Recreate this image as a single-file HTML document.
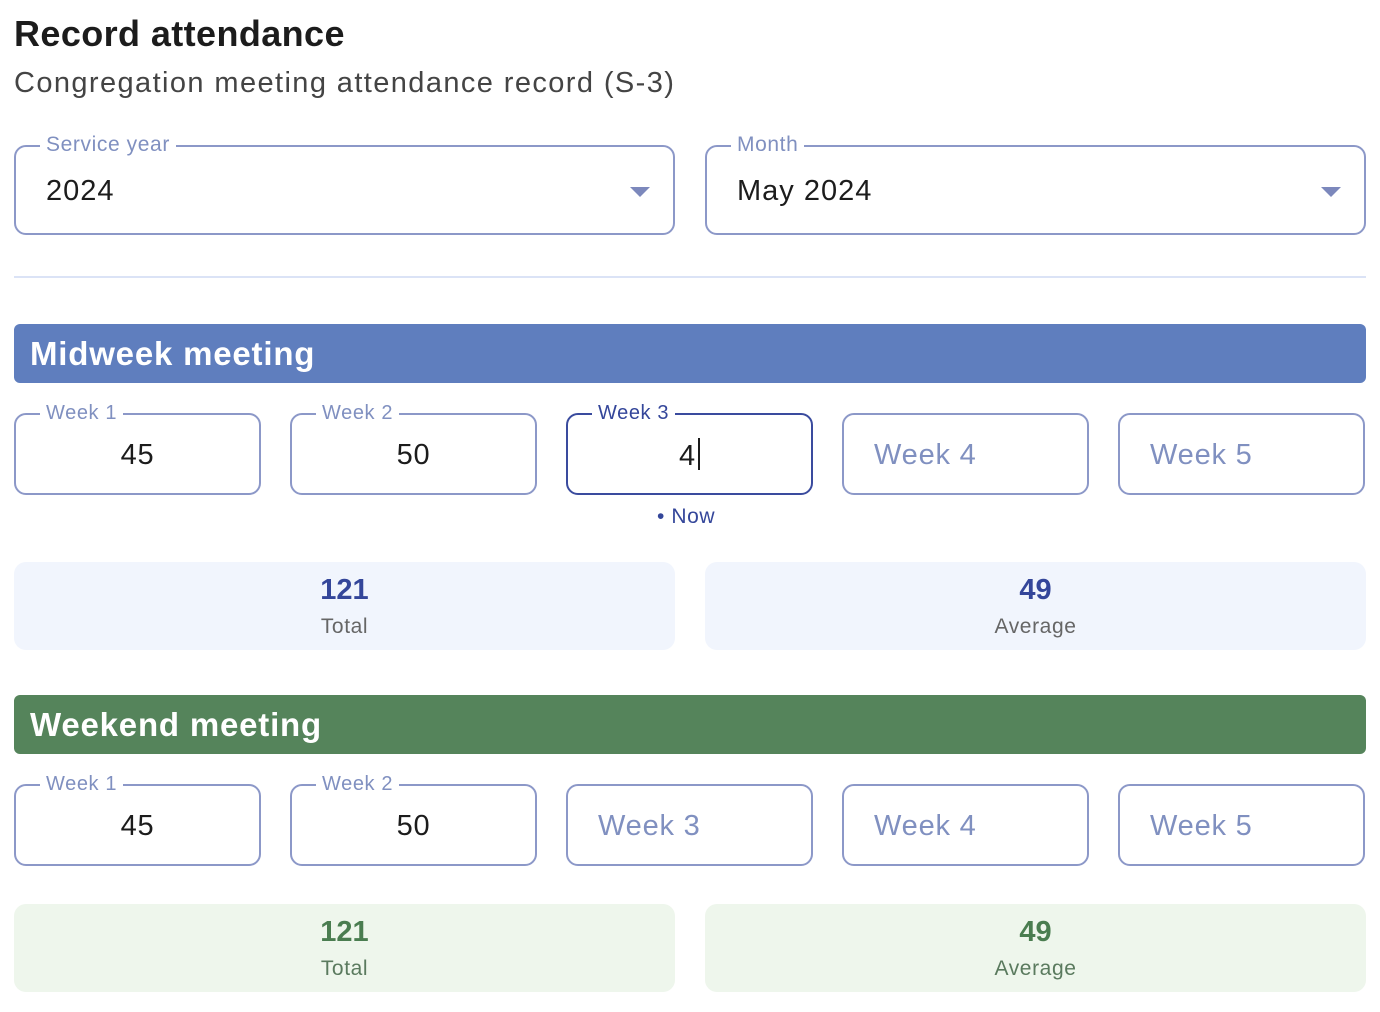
<!DOCTYPE html>
<html><head><meta charset="utf-8"><style>
*{margin:0;padding:0;box-sizing:border-box}
body{width:1380px;height:1012px;background:#fff;font-family:"Liberation Sans",sans-serif;position:relative;overflow:hidden}
.a{position:absolute;white-space:nowrap}
.box{position:absolute;border:2px solid #8c98c8;border-radius:12px;background:#fff}
.lbl{position:absolute;top:-14px;background:#fff;padding:0 6px;font-size:20px;color:#8090c0;line-height:24px;letter-spacing:0.6px}
.val{position:absolute;left:0;right:0;text-align:center;font-size:29px;color:#1c1c1c;line-height:34px;top:23px;letter-spacing:0.8px}
.ph{position:absolute;left:30px;top:23px;font-size:29px;color:#8090c0;line-height:34px;letter-spacing:0.8px}
.hdr{position:absolute;left:14px;width:1352px;height:59px;border-radius:6px;color:#fff;font-size:33px;font-weight:bold;line-height:59px;padding-left:16px;letter-spacing:0.8px}
.stat{position:absolute;width:661px;height:88px;border-radius:12px;text-align:center}
.num{font-size:29px;font-weight:bold;line-height:32px;margin-top:12px}
.sl{font-size:21px;color:#666;line-height:26px;margin-top:8px;letter-spacing:0.6px}
</style></head><body>
<div class="a" style="left:14px;top:12px;font-size:36px;font-weight:bold;color:#1c1c1c;line-height:44px;letter-spacing:0.4px">Record attendance</div>
<div class="a" style="left:14px;top:66px;font-size:29px;color:#444;line-height:34px;letter-spacing:1.4px">Congregation meeting attendance record (S-3)</div>

<div class="box" style="left:14px;top:145px;width:661px;height:90px"><div class="lbl" style="left:24px;font-size:21px">Service year</div><div class="a" style="left:30px;top:27px;font-size:29px;color:#1c1c1c;line-height:34px;letter-spacing:1px">2024</div><div class="a" style="left:614px;top:40px;width:0;height:0;border-left:10px solid transparent;border-right:10px solid transparent;border-top:10px solid #7c88bc"></div></div>
<div class="box" style="left:705px;top:145px;width:661px;height:90px"><div class="lbl" style="left:24px;font-size:21px">Month</div><div class="a" style="left:30px;top:27px;font-size:29px;color:#1c1c1c;line-height:34px;letter-spacing:1px">May 2024</div><div class="a" style="left:614px;top:40px;width:0;height:0;border-left:10px solid transparent;border-right:10px solid transparent;border-top:10px solid #7c88bc"></div></div>

<div class="a" style="left:14px;top:276px;width:1352px;height:2px;background:#dbe3f6"></div>

<div class="hdr" style="top:324px;background:#5f7ebe">Midweek meeting</div>
<div class="box" style="left:14px;top:413px;width:247px;height:82px"><div class="lbl" style="left:24px">Week 1</div><div class="val">45</div></div>
<div class="box" style="left:290px;top:413px;width:247px;height:82px"><div class="lbl" style="left:24px">Week 2</div><div class="val">50</div></div>
<div class="box" style="left:566px;top:413px;width:247px;height:82px;border:2px solid #3a4b9e"><div class="lbl" style="left:24px;color:#34469a">Week 3</div><div class="val" style="left:0">4<span style="display:inline-block;width:2px;height:32px;background:#1c1c1c;vertical-align:-5px;margin-left:2px"></span></div></div>
<div class="box" style="left:842px;top:413px;width:247px;height:82px"><div class="ph">Week 4</div></div>
<div class="box" style="left:1118px;top:413px;width:247px;height:82px"><div class="ph">Week 5</div></div>
<div class="a" style="left:657px;top:504px;font-size:21px;color:#34469a;line-height:26px;letter-spacing:0.6px">• Now</div>

<div class="stat" style="left:14px;top:562px;background:#f1f5fd"><div class="num" style="color:#34469a">121</div><div class="sl">Total</div></div>
<div class="stat" style="left:705px;top:562px;background:#f1f5fd"><div class="num" style="color:#34469a">49</div><div class="sl">Average</div></div>

<div class="hdr" style="top:695px;background:#55845b">Weekend meeting</div>
<div class="box" style="left:14px;top:784px;width:247px;height:82px"><div class="lbl" style="left:24px">Week 1</div><div class="val">45</div></div>
<div class="box" style="left:290px;top:784px;width:247px;height:82px"><div class="lbl" style="left:24px">Week 2</div><div class="val">50</div></div>
<div class="box" style="left:566px;top:784px;width:247px;height:82px"><div class="ph">Week 3</div></div>
<div class="box" style="left:842px;top:784px;width:247px;height:82px"><div class="ph">Week 4</div></div>
<div class="box" style="left:1118px;top:784px;width:247px;height:82px"><div class="ph">Week 5</div></div>

<div class="stat" style="left:14px;top:904px;background:#eef6ec"><div class="num" style="color:#4a7d50">121</div><div class="sl" style="color:#5a7a5e">Total</div></div>
<div class="stat" style="left:705px;top:904px;background:#eef6ec"><div class="num" style="color:#4a7d50">49</div><div class="sl" style="color:#5a7a5e">Average</div></div>
</body></html>
